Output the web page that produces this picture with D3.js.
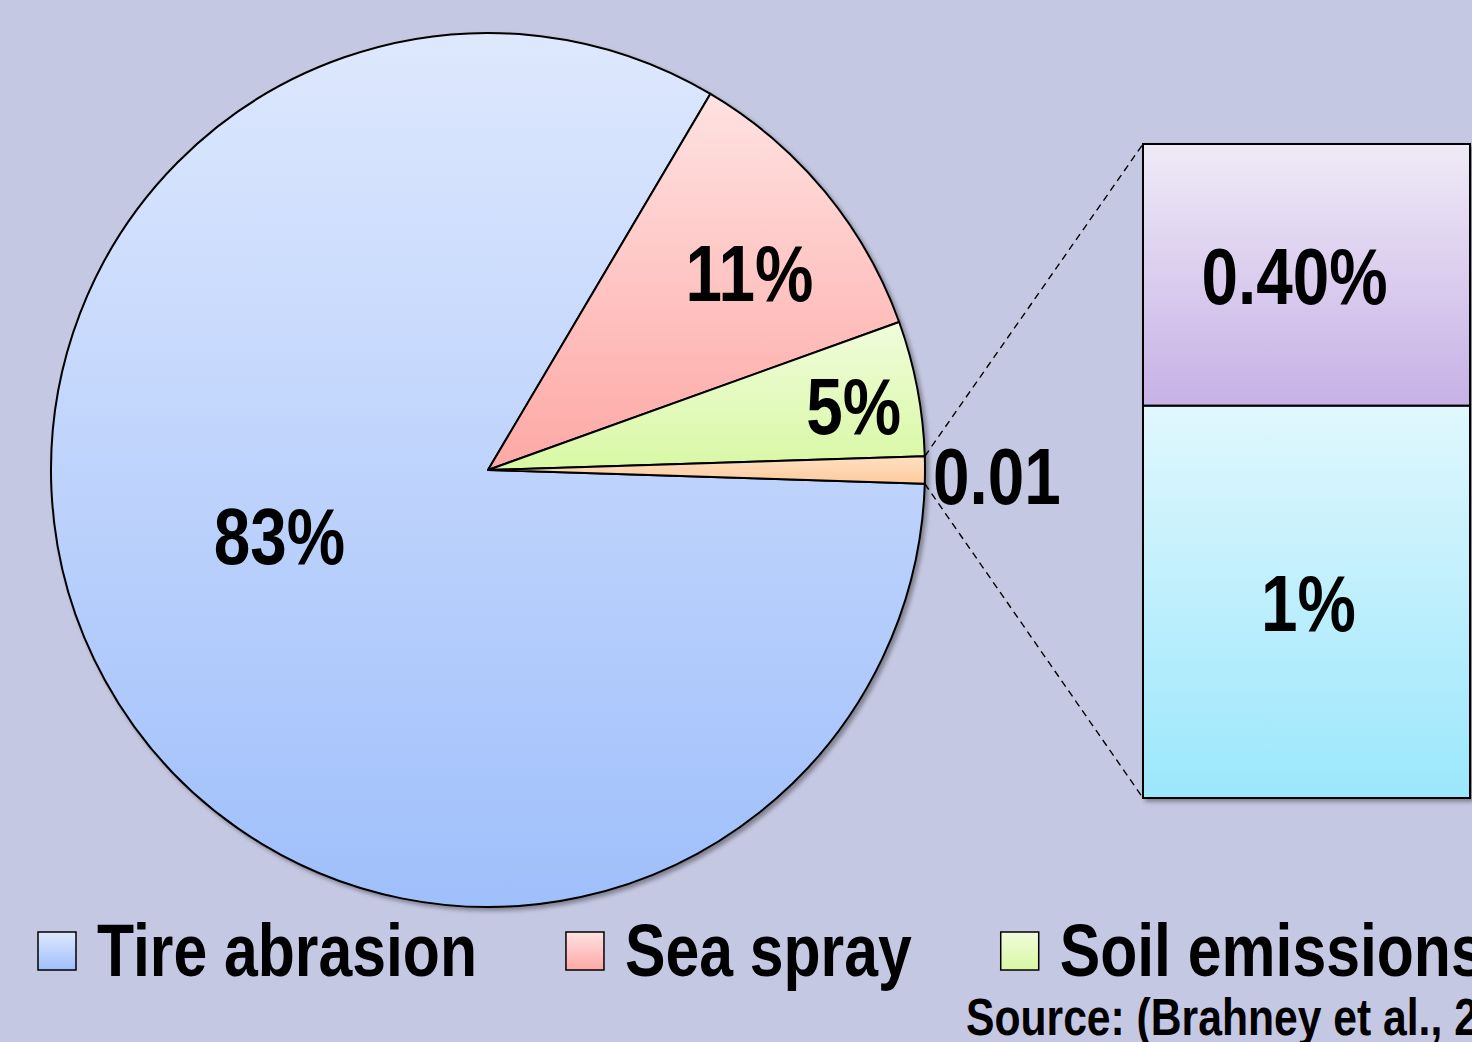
<!DOCTYPE html>
<head>
  <style>
    body { margin: 0; background: #c5c8e2; }
    svg { display: block; }
    text {
      font-family: "Liberation Sans", Arial, sans-serif;
      font-weight: bold;
      fill: #000;
    }
  </style>
  <script src="https://d3js.org/d3.v7.min.js"></script>
  <title></title>
</head>
<body>
<div class="home"></div>
<script>
    // pie slices (last one is broken out into the bar)
    const pieNames = ["Tire abrasion", "Sea spray", "Soil emissions", "Other"];
    const pieValues = [83, 11, 5, 1];
    const pieText = ["83%", "11%", "5%", "0.01"];

    // bar segments, bottom up
    const barNames = ["Other (bottom)", "Other (top)"];
    const barValues = [0.6, 0.4];
    const barText = ["1%", "0.40%"];

    const sourceText = "Source: (Brahney et al., 2020)";

    const pieColors = [["#dee8fd", "#9fbffb"], ["#fee2e1", "#fea8a5"], ["#f0fcdb", "#d8f8a4"], ["#fee0c2", "#fdca9c"]];
    const barColors = [["#e0f7fd", "#9be7fc"], ["#efeaf7", "#c7b1e6"]];

    const width = 1472, height = 1042;
    const cx = 488, cy = 470, r = 437;
    const narrow = 0.82; // no narrow font installed, squeeze the glyphs instead

    const svg = d3.select(".home").append("svg")
        .attr("width", width)
        .attr("height", height)
        .style("background", "#c5c8e2");

    function condense(sel) {
        sel.each(function () {
            const w = this.getComputedTextLength();
            d3.select(this).attr("textLength", w * narrow).attr("lengthAdjust", "spacingAndGlyphs");
        });
        return sel;
    }

    const defs = svg.append("defs");
    const shadow = defs.append("filter").attr("id", "shadow")
        .attr("x", "-10%").attr("y", "-10%").attr("width", "120%").attr("height", "120%");
    shadow.append("feDropShadow").attr("dx", 3).attr("dy", 3)
        .attr("stdDeviation", 2).attr("flood-color", "#000").attr("flood-opacity", 0.35);

    function gradient(id, c) {
        const g = defs.append("linearGradient").attr("id", id)
            .attr("x1", 0).attr("y1", 0).attr("x2", 0).attr("y2", 1);
        g.append("stop").attr("offset", "0%").attr("stop-color", c[0]);
        g.append("stop").attr("offset", "100%").attr("stop-color", c[1]);
    }
    pieColors.forEach((c, i) => gradient("pg" + i, c));
    barColors.forEach((c, i) => gradient("bg" + i, c));

    // the "other" slice is centred on the right, pointing at the bar
    const total = d3.sum(pieValues);
    const otherShare = pieValues[pieValues.length - 1] / total;
    const start = Math.PI / 2 + otherShare * Math.PI;

    const pie = d3.pie().sort(null).startAngle(start).endAngle(start + 2 * Math.PI);
    const arcs = pie(pieValues);
    const arc = d3.arc().innerRadius(0).outerRadius(r);

    const pieG = svg.append("g").attr("transform", `translate(${cx},${cy})`);
    pieG.append("g").attr("filter", "url(#shadow)")
        .selectAll("path")
        .data(arcs)
        .enter()
        .append("path")
        .attr("d", arc)
        .attr("fill", (d, i) => `url(#pg${i})`)
        .attr("stroke", "#000")
        .attr("stroke-width", 2)
        .attr("stroke-linejoin", "round");

    // label placement: [radius fraction, angle shift in degrees]
    const labelPlace = [[0.5, 11.4], [0.75, 2.5], [0.85, 0.7]];
    const labelSize = 80;
    labelPlace.forEach((p, i) => {
        const a = (arcs[i].startAngle + arcs[i].endAngle) / 2 + p[1] * Math.PI / 180;
        const x = Math.sin(a) * r * p[0];
        const y = -Math.cos(a) * r * p[0];
        condense(pieG.append("text")
            .attr("x", x)
            .attr("y", y + labelSize * 0.36)
            .attr("text-anchor", "middle")
            .style("font-size", labelSize + "px")
            .text(pieText[i]));
    });
    const other = arcs[arcs.length - 1];
    condense(pieG.append("text")
        .attr("x", r + 8)
        .attr("y", 5 + labelSize * 0.36)
        .attr("text-anchor", "start")
        .style("font-size", labelSize + "px")
        .text(pieText[pieText.length - 1]));

    // bar of the broken-out slice
    const barX = 1143, barW = 327;
    const y = d3.scaleLinear().domain([0, d3.sum(barValues)]).range([798, 144]);
    const stacked = d3.cumsum(barValues);
    const segs = barValues.map((v, i) => ({v, y0: stacked[i] - v, y1: stacked[i], i}));

    // connectors from the slice edge to the bar corners
    const edge = a => [cx + Math.sin(a) * r, cy - Math.cos(a) * r];
    const lineG = svg.append("g");
    [[edge(other.startAngle), [barX, y(d3.sum(barValues))]],
     [edge(other.endAngle), [barX, y(0)]]].forEach(l => {
        lineG.append("line")
            .attr("x1", l[0][0]).attr("y1", l[0][1])
            .attr("x2", l[1][0]).attr("y2", l[1][1])
            .attr("stroke", "#000")
            .attr("stroke-width", 1.4)
            .attr("stroke-dasharray", "7,5");
    });

    const barG = svg.append("g").attr("filter", "url(#shadow)");
    barG.selectAll("rect")
        .data(segs)
        .enter()
        .append("rect")
        .attr("x", barX)
        .attr("y", d => y(d.y1))
        .attr("width", barW)
        .attr("height", d => y(d.y0) - y(d.y1))
        .attr("fill", d => `url(#bg${d.i})`)
        .attr("stroke", "#000")
        .attr("stroke-width", 2);

    condense(svg.append("g").selectAll("text")
        .data(segs)
        .enter()
        .append("text")
        .attr("x", d => barX + barW / 2 + (d.i === 0 ? 2 : -12))
        .attr("y", d => (y(d.y0) + y(d.y1)) / 2 + labelSize * 0.36)
        .attr("text-anchor", "middle")
        .style("font-size", labelSize + "px")
        .text(d => barText[d.i]));

    // legend
    const legendNames = pieNames.slice(0, 3);
    const legend = svg.append("g");
    let lx = 38;
    legendNames.forEach((name, i) => {
        legend.append("rect")
            .attr("x", lx).attr("y", 932)
            .attr("width", 38).attr("height", 38)
            .attr("fill", `url(#pg${i})`)
            .attr("stroke", "#000")
            .attr("stroke-width", 1.5);
        const t = legend.append("text")
            .attr("x", lx + 59)
            .attr("y", 976)
            .style("font-size", "74px")
            .text(name);
        condense(t);
        lx += 59 + (+t.attr("textLength")) + 89;
    });

    condense(svg.append("text")
        .attr("x", 966)
        .attr("y", 1035)
        .style("font-size", "52px")
        .text(sourceText));
</script>
</body>
